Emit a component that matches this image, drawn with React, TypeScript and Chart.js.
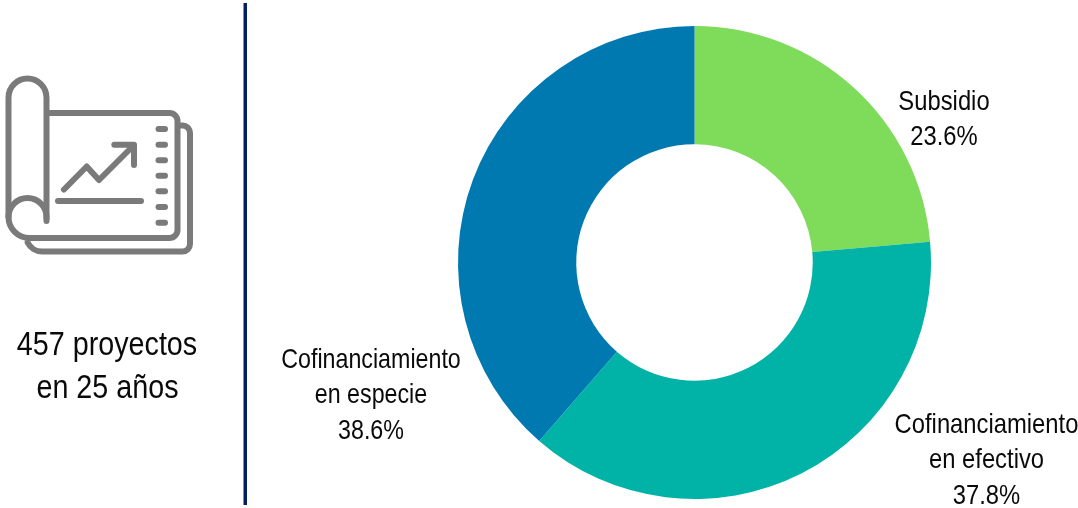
import React, { useEffect, useRef } from "react";
import { Chart, registerables } from "chart.js";

Chart.register(...registerables);

const categories = ["Subsidio", "Cofinanciamiento en efectivo", "Cofinanciamiento en especie"];
const values = [23.6, 37.8, 38.6];
const colors = ["#7FDB5A", "#00B3A6", "#0079B0"];
const sliceLabelLines = [["Subsidio"], ["Cofinanciamiento", "en efectivo"], ["Cofinanciamiento", "en especie"]];
const sideLines = ["457 proyectos", "en 25 años"];
const FONT = '"Liberation Sans", sans-serif';

function narrowText(c: CanvasRenderingContext2D, t: string, x: number, y: number, sx: number) {
  c.save();
  c.translate(x, y);
  c.scale(sx, 1);
  c.fillText(t, 0, 0);
  c.restore();
}

const decorPlugin = {
  id: "decor",
  afterDraw(chart: any) {
    const c = chart.ctx as CanvasRenderingContext2D;
    c.save();
    // divider
    c.fillStyle = "#002060";
    c.fillRect(243.5, 3, 3.5, 502);

    // icon
    c.strokeStyle = "#7a7a7a";
    c.lineWidth = 6;
    c.lineCap = "round";
    c.lineJoin = "round";
    c.beginPath();
    c.moveTo(46.5, 221);
    c.lineTo(46.5, 97.5);
    c.arc(27.5, 97.5, 19, 0, Math.PI, true);
    c.lineTo(8.5, 217);
    c.arcTo(8.5, 238, 30, 238, 21);
    c.lineTo(170, 238);
    c.arcTo(177.5, 238, 177.5, 230, 8);
    c.lineTo(177.5, 121);
    c.arcTo(177.5, 113, 170, 113, 8);
    c.lineTo(46.5, 113);
    c.stroke();
    c.beginPath();
    c.moveTo(46.5, 218);
    c.arc(27.5, 217, 19, 0, Math.PI, true);
    c.stroke();
    c.beginPath();
    c.moveTo(181, 125.5);
    c.lineTo(183, 125.5);
    c.arcTo(190, 125.5, 190, 133, 7.5);
    c.lineTo(190, 244);
    c.arcTo(190, 251.5, 183, 251.5, 7.5);
    c.lineTo(46, 251.5);
    c.arcTo(32, 251.5, 26, 239, 16);
    c.stroke();
    [129, 144.7, 160.3, 175.7, 191.3, 207, 222.7].forEach((y) => {
      c.beginPath();
      c.moveTo(158.5, y);
      c.lineTo(165, y);
      c.stroke();
    });
    c.beginPath();
    c.moveTo(64, 189.5);
    c.lineTo(86.7, 166.5);
    c.lineTo(99, 180);
    c.lineTo(133, 146);
    c.stroke();
    c.beginPath();
    c.moveTo(114.3, 144.7);
    c.lineTo(134, 144.7);
    c.lineTo(134, 165);
    c.stroke();
    c.beginPath();
    c.moveTo(58, 201);
    c.lineTo(141, 201);
    c.stroke();

    // texts
    c.fillStyle = "#0a0a0a";
    c.textAlign = "center";
    c.textBaseline = "middle";
    c.font = `33px ${FONT}`;
    narrowText(c, sideLines[0], 107, 346, 0.87);
    narrowText(c, sideLines[1], 107.5, 389, 0.87);

    c.font = `28px ${FONT}`;
    const anchors: [number, number][] = [[944, 102], [986.5, 425], [371, 360]];
    const scales = [0.85, 0.85, 0.83];
    const gap = 35.5;
    sliceLabelLines.forEach((lines, i) => {
      const all = [...lines, `${values[i].toFixed(1)}%`];
      all.forEach((t, j) => narrowText(c, t, anchors[i][0], anchors[i][1] + j * gap, scales[i]));
    });
    c.restore();
  },
};

export default function App() {
  const ref = useRef<HTMLCanvasElement>(null);
  useEffect(() => {
    document.body.style.margin = "0";
    document.body.style.background = "#fff";
    const chart = new Chart(ref.current!, {
      type: "doughnut",
      data: {
        labels: categories,
        datasets: [{ data: values, backgroundColor: colors, borderWidth: 0 }],
      },
      options: {
        animation: false,
        responsive: false,
        cutout: "50%",
        layout: { padding: { left: 458, right: 147, top: 26, bottom: 9 } },
        plugins: { legend: { display: false }, tooltip: { enabled: false } },
      },
      plugins: [decorPlugin],
    } as any);
    return () => chart.destroy();
  }, []);
  return <canvas ref={ref} width={1078} height={508} style={{ display: "block" }} />;
}
